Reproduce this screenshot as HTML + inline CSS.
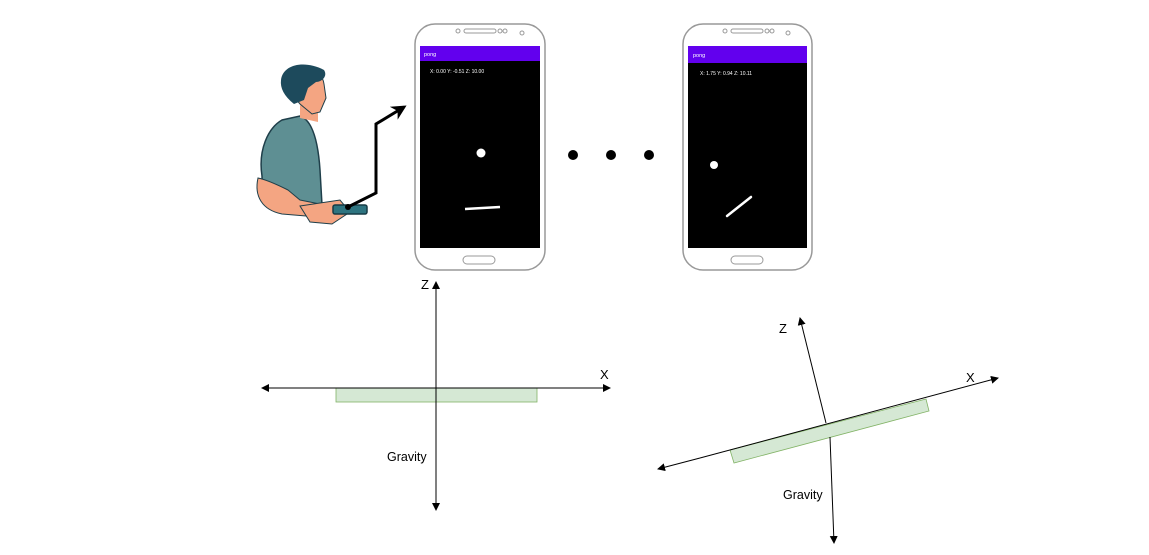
<!DOCTYPE html>
<html><head><style>
html,body{margin:0;padding:0;background:#fff;}
svg{display:block;font-family:"Liberation Sans",sans-serif;}
</style></head><body>
<svg width="1149" height="555" viewBox="0 0 1149 555">
<defs>
<marker id="ah" markerWidth="8" markerHeight="8" refX="7" refY="4" orient="auto"><path d="M0,0 L8,4 L0,8 z" fill="#000"/></marker>
<marker id="ah2" markerWidth="5" markerHeight="5" refX="4" refY="2.5" orient="auto"><path d="M0,0 L5,2.5 L0,5 L1.5,2.5 z" fill="#000"/></marker>
</defs>
<!-- person -->
<g>
<path d="M262,176 C258,150 268,128 282,120 L300,116 C312,120 318,140 320,170 L322,205 L290,210 C270,205 262,195 262,176z" fill="#5e8f93" stroke="#1f3f4a" stroke-width="1.5"/>
<path d="M300,106 L302,100 L318,100 L318,122 L300,118z" fill="#f4a582"/>
<path d="M288,72 C300,64 322,68 324,84 L326,98 L320,112 L312,114 L300,104 L290,92z" fill="#f4a582" stroke="#1f3f4a" stroke-width="1"/>
<path d="M281,80 C283,64 305,60 324,70 C328,76 322,82 316,82 L308,88 L304,100 L294,104 C284,96 280,88 281,80z" fill="#1d4a5c"/>
<path d="M258,178 C254,196 262,210 282,214 L330,218 L340,208 L300,200 L288,190 C280,186 268,180 258,178z" fill="#f4a582" stroke="#1f3f4a" stroke-width="1"/>
<path d="M300,206 L340,200 L350,212 L332,224 L310,222z" fill="#f4a582" stroke="#1f3f4a" stroke-width="1"/>
<rect x="333" y="205" width="34" height="9" rx="2" fill="#2e7480" stroke="#173b45" stroke-width="1.5"/>
</g>
<polyline points="348,207 376,193 376,124 404,107" fill="none" stroke="#000" stroke-width="3" marker-end="url(#ah2)"/>
<circle cx="348" cy="207" r="3" fill="#000"/>
<!-- phone 1 -->
<g>
<rect x="415" y="24" width="130" height="246" rx="20" fill="#fff" stroke="#999" stroke-width="1.5"/>
<rect x="464" y="29" width="32" height="4" rx="2" fill="none" stroke="#999"/>
<circle cx="458" cy="31" r="2" fill="none" stroke="#999"/><circle cx="500" cy="31" r="2" fill="none" stroke="#999"/><circle cx="505" cy="31" r="2" fill="none" stroke="#999"/><circle cx="522" cy="33" r="2" fill="none" stroke="#999"/>
<rect x="420" y="46" width="120" height="202" fill="#000"/>
<rect x="420" y="46" width="120" height="15" fill="#6200ee"/>
<text x="424" y="56" font-size="5.5" fill="#fff">pong</text>
<text x="430" y="73" font-size="5" fill="#fff">X: 0.00 Y: -0.51 Z: 10.00</text>
<circle cx="481" cy="153" r="4.5" fill="#fff"/>
<line x1="465" y1="209" x2="500" y2="207" stroke="#fff" stroke-width="2.5"/>
<rect x="463" y="256" width="32" height="8" rx="4" fill="none" stroke="#999"/>
</g>
<g>
<circle cx="573" cy="155" r="5" fill="#000"/><circle cx="611" cy="155" r="5" fill="#000"/><circle cx="649" cy="155" r="5" fill="#000"/>
</g>
<!-- phone 2 -->
<g>
<rect x="683" y="24" width="129" height="246" rx="20" fill="#fff" stroke="#999" stroke-width="1.5"/>
<rect x="731" y="29" width="32" height="4" rx="2" fill="none" stroke="#999"/>
<circle cx="725" cy="31" r="2" fill="none" stroke="#999"/><circle cx="767" cy="31" r="2" fill="none" stroke="#999"/><circle cx="772" cy="31" r="2" fill="none" stroke="#999"/><circle cx="788" cy="33" r="2" fill="none" stroke="#999"/>
<rect x="688" y="46" width="119" height="202" fill="#000"/>
<rect x="688" y="46" width="119" height="17" fill="#6200ee"/>
<text x="693" y="57" font-size="5.5" fill="#fff">pong</text>
<text x="700" y="75" font-size="5" fill="#fff">X: 1.75 Y: 0.94 Z: 10.11</text>
<circle cx="714" cy="165" r="4" fill="#fff"/>
<line x1="727" y1="216" x2="751" y2="197" stroke="#fff" stroke-width="2.5" stroke-linecap="round"/>
<rect x="731" y="256" width="32" height="8" rx="4" fill="none" stroke="#999"/>
</g>
<!-- left axes -->
<g>
<rect x="336" y="388" width="201" height="14" fill="#d5e8d4" stroke="#82b366" stroke-width="0.8"/>
<line x1="436" y1="508" x2="436" y2="282" stroke="#000" marker-end="url(#ah)"/>
<line x1="436" y1="508" x2="436" y2="510" stroke="#000" marker-end="url(#ah)"/>
<line x1="262" y1="388" x2="610" y2="388" stroke="#000" marker-end="url(#ah)"/>
<line x1="300" y1="388" x2="262" y2="388" stroke="#000" marker-end="url(#ah)"/>
<text x="421" y="289" font-size="13">Z</text>
<text x="600" y="379" font-size="13">X</text>
<text x="387" y="461" font-size="12.5">Gravity</text>
</g>
<!-- right axes -->
<g>
<polygon points="730,450 926,399 929,411 734,463" fill="#d5e8d4" stroke="#82b366" stroke-width="0.8"/>
<line x1="700" y1="458" x2="998" y2="378" stroke="#000" marker-end="url(#ah)"/>
<line x1="700" y1="458" x2="658" y2="469" stroke="#000" marker-end="url(#ah)"/>
<line x1="826" y1="423" x2="800" y2="318" stroke="#000" marker-end="url(#ah)"/>
<line x1="830" y1="437" x2="834" y2="543" stroke="#000" marker-end="url(#ah)"/>
<text x="779" y="333" font-size="13">Z</text>
<text x="966" y="382" font-size="13">X</text>
<text x="783" y="499" font-size="12.5">Gravity</text>
</g>
</svg>
</body></html>
